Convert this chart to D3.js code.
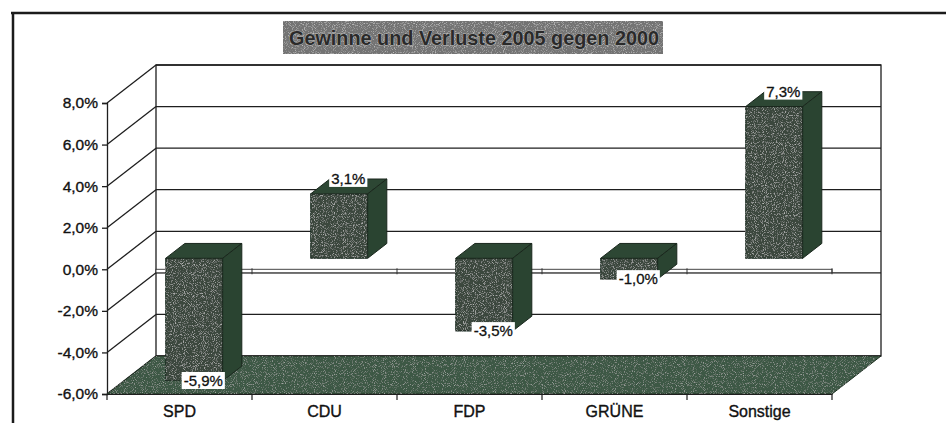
<!DOCTYPE html>
<html><head><meta charset="utf-8">
<script src="https://cdn.jsdelivr.net/npm/d3@7"></script>
<style>
html,body{margin:0;padding:0;background:#fff;}
svg{display:block;font-family:"Liberation Sans",Arial,sans-serif;}
</style></head>
<body>
<svg id="c" width="946" height="423"></svg>
<script>
const categories = ["SPD", "CDU", "FDP", "GRÜNE", "Sonstige"];
const values = [-5.9, 3.1, -3.5, -1.0, 7.3];
const valueLabels = ["-5,9%", "3,1%", "-3,5%", "-1,0%", "7,3%"];
const yTicks = [-6, -4, -2, 0, 2, 4, 6, 8];
const yTickLabels = ["-6,0%", "-4,0%", "-2,0%", "0,0%", "2,0%", "4,0%", "6,0%", "8,0%"];
const title = "Gewinne und Verluste 2005 gegen 2000";

const svg = d3.select("#c");
const defs = svg.append("defs");
function speckle(id, col, gain, thr, seed) {
  const f = defs.append("filter").attr("id", id).attr("x", 0).attr("y", 0).attr("width", 1).attr("height", 1);
  f.append("feTurbulence").attr("type", "fractalNoise").attr("baseFrequency", 1.1).attr("numOctaves", 1).attr("seed", seed).attr("result", "n");
  f.append("feColorMatrix").attr("in", "n").attr("type", "matrix")
    .attr("values", `0 0 0 0 ${col}  0 0 0 0 ${col}  0 0 0 0 ${col}  ${gain} 0 0 0 ${thr}`).attr("result", "s");
  f.append("feComposite").attr("in", "s").attr("in2", "SourceGraphic").attr("operator", "in").attr("result", "sc");
  const m = f.append("feMerge");
  m.append("feMergeNode").attr("in", "SourceGraphic");
  m.append("feMergeNode").attr("in", "sc");
}
speckle("spk", 0.62, 2.6, -1.35, 4);
speckle("spkf", 0.55, 2.4, -1.3, 7);
speckle("spkt", 0.7, 2.4, -1.25, 2);

// frame
svg.append("line").attr("x1", 11).attr("x2", 946).attr("y1", 13).attr("y2", 13).attr("stroke", "#1b1b1b").attr("stroke-width", 2.5);
svg.append("line").attr("x1", 13).attr("x2", 13).attr("y1", 12).attr("y2", 423).attr("stroke", "#1b1b1b").attr("stroke-width", 2.5);

// title
const tb = svg.append("g");
tb.append("rect").attr("x", 283).attr("y", 21).attr("width", 380).attr("height", 33).attr("fill", "#737373").attr("filter", "url(#spkt)");
tb.append("text").attr("x", 474).attr("y", 45).attr("text-anchor", "middle")
  .attr("font-size", 21).attr("font-weight", "bold").attr("fill", "#2a2a2a")
  .attr("stroke", "#b5b5b5").attr("stroke-width", 0.9).attr("paint-order", "stroke")
  .attr("textLength", 370).attr("lengthAdjust", "spacingAndGlyphs")
  .text(title);

const x = d3.scaleBand().domain(categories).range([107, 832]).paddingInner(0).paddingOuter(0);
const y = d3.scaleLinear().domain([-6, 8]).range([394, 103]);
const DX = 49, DY = -38;
const z = d3.scaleLinear().domain([0, 1]).range([0, 1]);

const g = svg.append("g");
const lineCol = "#1e1e1e";
const txtFont = "Liberation Sans, Arial, sans-serif";

// back wall
g.append("rect").attr("x", 107 + DX).attr("y", y(8) + DY).attr("width", 832 - 107).attr("height", y(-6) - y(8))
  .attr("fill", "#fff").attr("stroke", lineCol).attr("stroke-width", 1.3);
yTicks.forEach(t => {
  g.append("line").attr("x1", 107 + DX).attr("x2", 832 + DX).attr("y1", y(t) + DY).attr("y2", y(t) + DY)
    .attr("stroke", lineCol).attr("stroke-width", 1.3);
  g.append("line").attr("x1", 107).attr("x2", 107 + DX).attr("y1", y(t)).attr("y2", y(t) + DY)
    .attr("stroke", lineCol).attr("stroke-width", 1.3);
});
// front value axis
const yAxis = d3.axisLeft(y).tickValues(yTicks).tickSize(5).tickFormat((d, i) => yTickLabels[i]);
const ya = g.append("g").attr("transform", "translate(107,0)").call(yAxis);
ya.select(".domain").attr("stroke", lineCol).attr("stroke-width", 1.3);
ya.selectAll(".tick line").attr("stroke", lineCol).attr("stroke-width", 1.3);
ya.selectAll(".tick text").attr("font-size", 15.5).attr("fill", "#111").attr("font-family", txtFont).attr("x", -9)
  .attr("stroke", "#111").attr("stroke-width", 0.35);

// floor
const fl = [[107, y(-6)], [832, y(-6)], [832 + DX, y(-6) + DY], [107 + DX, y(-6) + DY]];
g.append("path").attr("d", d3.line()(fl) + "Z").attr("fill", "#3e5944").attr("stroke", "#1f3023").attr("stroke-width", 1).attr("filter", "url(#spkf)");

// zero plane slab
g.append("rect").attr("x", 107 + DX).attr("y", y(0)).attr("width", 832 - 107 - DX).attr("height", 3.5)
  .attr("fill", "#fff").attr("stroke", "#333").attr("stroke-width", 0.9);
const bounds0 = categories.slice(1).map(c => x(c)).concat([832]);
bounds0.forEach(b => {
  g.append("line").attr("x1", b).attr("x2", b).attr("y1", y(0) - 1).attr("y2", y(0) + 5).attr("stroke", "#333").attr("stroke-width", 1);
});

// category axis
const xAxis = d3.axisBottom(x).tickSize(0).tickPadding(12);
const xa = g.append("g").attr("transform", `translate(0,${y(-6)})`).call(xAxis);
xa.select(".domain").attr("stroke", lineCol).attr("stroke-width", 1.2);
xa.selectAll(".tick text").attr("font-size", 16).attr("fill", "#111").attr("font-family", txtFont)
  .attr("stroke", "#111").attr("stroke-width", 0.35);
const bounds = categories.map(c => x(c)).concat([x(categories[categories.length - 1]) + x.bandwidth()]);
bounds.forEach(b => {
  g.append("line").attr("x1", b).attr("x2", b).attr("y1", y(-6)).attr("y2", y(-6) + 6).attr("stroke", lineCol).attr("stroke-width", 1.2);
});

// bars
const z0 = z(0.29), z1 = z(0.68);
const bw = x.bandwidth();
const off = bw * 0.307, w = bw * 0.393;
const ddx = DX * (z1 - z0), ddy = DY * (z1 - z0);
const bars = g.append("g");
categories.forEach((c, i) => {
  const v = values[i];
  const x0 = x(c) + off + DX * z0, x1 = x0 + w;
  const yt = y(Math.max(v, 0)) + DY * z0, yb = y(Math.min(v, 0)) + DY * z0;
  const bg = bars.append("g");
  bg.append("rect").attr("x", x0).attr("y", yt).attr("width", w).attr("height", yb - yt)
    .attr("fill", "#3a473c").attr("stroke", "#1a271d").attr("stroke-width", 1).attr("filter", "url(#spk)");
  bg.append("path").attr("d", d3.line()([[x0, yt], [x1, yt], [x1 + ddx, yt + ddy], [x0 + ddx, yt + ddy]]) + "Z")
    .attr("fill", "#2d4734").attr("stroke", "#1a271d").attr("stroke-width", 1);
  bg.append("path").attr("d", d3.line()([[x1, yt], [x1 + ddx, yt + ddy], [x1 + ddx, yb + ddy], [x1, yb]]) + "Z")
    .attr("fill", "#2a4431").attr("stroke", "#1a271d").attr("stroke-width", 1);
});

// data labels
const zm = (z0 + z1) / 2;
categories.forEach((c, i) => {
  const v = values[i];
  const cx = x(c) + bw / 2 + DX * zm;
  const cy = y(v) + DY * zm + (v >= 0 ? -8 : 7);
  const lg = g.append("g");
  const t = lg.append("text").attr("x", cx).attr("y", cy).attr("text-anchor", "middle").attr("dy", "0.36em")
    .attr("font-size", 15).attr("fill", "#111").attr("stroke", "#111").attr("stroke-width", 0.3).text(valueLabels[i]);
  const bb = t.node().getBBox();
  lg.insert("rect", "text").attr("x", bb.x - 2).attr("y", cy - 8.5).attr("width", bb.width + 4).attr("height", 17).attr("fill", "#fff");
});
</script>
</body></html>
